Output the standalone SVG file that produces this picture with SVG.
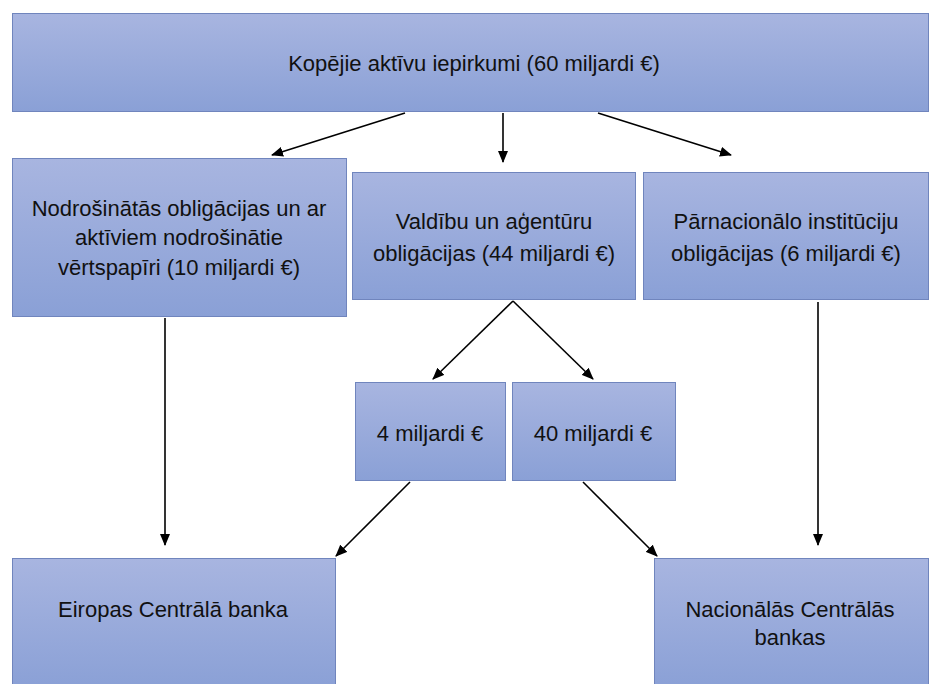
<svg xmlns="http://www.w3.org/2000/svg" width="929" height="684" viewBox="0 0 929 684">
<defs>
<linearGradient id="g" x1="0" y1="0" x2="0" y2="1">
<stop offset="0" stop-color="#a8b5e0"/>
<stop offset="1" stop-color="#8aa0d6"/>
</linearGradient>
<marker id="ah" viewBox="0 0 12 10" refX="11" refY="5" markerWidth="12" markerHeight="10" markerUnits="userSpaceOnUse" orient="auto">
<path d="M0,0 L12,5 L0,10 z" fill="#000"/>
</marker>
</defs>
<style>
.box{fill:url(#g);stroke:#7085bd;stroke-width:1}
.t{font-family:"Liberation Sans","Open Sans",sans-serif;font-size:22px;fill:#111;text-anchor:middle}
.c{stroke:#000;stroke-width:1.6;fill:none;marker-end:url(#ah)}
</style>
<rect width="929" height="684" fill="#fff"/>
<g id="top"><rect class="box" x="12.5" y="13.5" width="916" height="98"/><text class="t" x="474" y="71">Kopējie aktīvu iepirkumi (60 miljardi €)</text></g>
<g id="left"><rect class="box" x="12.5" y="158.5" width="334" height="158"/><text class="t" x="179" y="216">Nodrošinātās obligācijas un ar</text><text class="t" x="179" y="245">aktīviem nodrošinātie</text><text class="t" x="179" y="275">vērtspapīri (10 miljardi €)</text></g>
<g id="mid"><rect class="box" x="352.5" y="172.5" width="283" height="127"/><text class="t" x="494" y="229">Valdību un aģentūru</text><text class="t" x="494" y="261">obligācijas (44 miljardi €)</text></g>
<g id="right"><rect class="box" x="643.5" y="172.5" width="285" height="127"/><text class="t" x="786" y="229">Pārnacionālo institūciju</text><text class="t" x="786" y="261">obligācijas (6 miljardi €)</text></g>
<g id="s4"><rect class="box" x="355.5" y="382.5" width="150" height="98"/><text class="t" x="430" y="441">4 miljardi €</text></g>
<g id="s40"><rect class="box" x="512.5" y="382.5" width="163" height="98"/><text class="t" x="593" y="441">40 miljardi €</text></g>
<g id="ecb"><rect class="box" x="12.5" y="558.5" width="323" height="130"/><text class="t" x="173" y="617">Eiropas Centrālā banka</text></g>
<g id="ncb"><rect class="box" x="654.5" y="558.5" width="274" height="130"/><text class="t" x="790" y="617">Nacionālās Centrālās</text><text class="t" x="790" y="645">bankas</text></g>
<g id="connectors">
<line class="c" x1="405" y1="113" x2="272" y2="155"/>
<line class="c" x1="503" y1="113" x2="503" y2="162"/>
<line class="c" x1="598" y1="113" x2="731" y2="155"/>
<line class="c" x1="165" y1="318" x2="165" y2="545"/>
<line class="c" x1="513" y1="301" x2="433" y2="379"/>
<line class="c" x1="513" y1="301" x2="593" y2="379"/>
<line class="c" x1="410" y1="482" x2="336" y2="556"/>
<line class="c" x1="583" y1="482" x2="657" y2="556"/>
<line class="c" x1="818" y1="302" x2="818" y2="545"/>
</g>
</svg>
